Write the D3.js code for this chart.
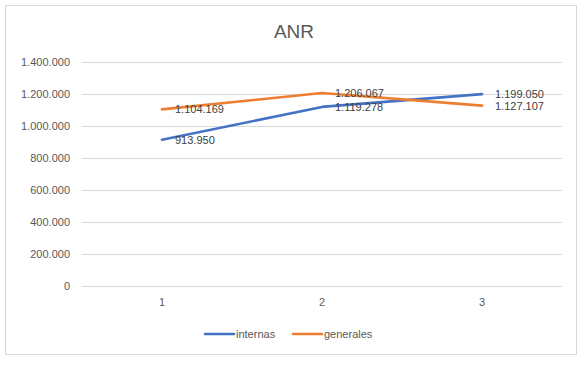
<!DOCTYPE html>
<html>
<head>
<meta charset="utf-8">
<script src="https://cdn.jsdelivr.net/npm/d3@7"></script>
<style>
  body { margin: 0; background: #fff; }
  text { font-family: "Liberation Sans", Arial, sans-serif; }
</style>
</head>
<body>
<svg id="chart" width="588" height="366"></svg>
<script>
// data
var categories = ["1", "2", "3"];
var internas = [913950, 1119278, 1199050];
var generales = [1104169, 1206067, 1127107];
var yTicks = [0, 200000, 400000, 600000, 800000, 1000000, 1200000, 1400000];
var seriesNames = ["internas", "generales"];
var colors = ["#4472C4", "#ED7D31"];

var svg = d3.select("#chart");

// outer frame
svg.append("rect")
  .attr("x", 5.5).attr("y", 5.5)
  .attr("width", 571).attr("height", 349)
  .attr("fill", "#fff")
  .attr("stroke", "#d9d9d9");

var plotLeft = 82, plotRight = 562, plotTop = 62, plotBottom = 286;

var x = d3.scaleBand().domain(categories).range([plotLeft, plotRight]);
var y = d3.scaleLinear().domain([0, 1400000]).range([plotBottom, plotTop]);

var fmt = d3.formatLocale({decimal: ",", thousands: ".", grouping: [3], currency: ["", ""]}).format(",d");

// title
svg.append("text")
  .attr("x", 294).attr("y", 38)
  .attr("text-anchor", "middle")
  .style("font-size", "19px")
  .style("fill", "#595959")
  .text("ANR");

// gridlines + y labels
var yAxis = d3.axisLeft(y).tickValues(yTicks).tickFormat(fmt).tickSize(-(plotRight - plotLeft)).tickPadding(12);
var gy = svg.append("g").attr("transform", "translate(" + plotLeft + ",0)").call(yAxis);
gy.select(".domain").remove();
gy.selectAll("line").attr("stroke", "#d9d9d9");
gy.selectAll("text").style("font-size", "11px").style("fill", "#595959")
  .style("font-family", "Liberation Sans, Arial, sans-serif");

// x labels
var xAxis = d3.axisBottom(x).tickSize(0).tickPadding(12);
var gx = svg.append("g").attr("transform", "translate(0," + plotBottom + ")").call(xAxis);
gx.select(".domain").remove();
gx.selectAll("text").style("font-size", "11px").style("fill", "#595959")
  .style("font-family", "Liberation Sans, Arial, sans-serif");

var cx = function(i) { return x(categories[i]) + x.bandwidth() / 2; };

var line = d3.line()
  .x(function(d, i) { return cx(i); })
  .y(function(d) { return y(d); });

[internas, generales].forEach(function(s, k) {
  svg.append("path")
    .datum(s)
    .attr("d", line)
    .attr("fill", "none")
    .attr("stroke", colors[k])
    .attr("stroke-width", 2.6)
    .attr("stroke-linecap", "round")
    .attr("stroke-linejoin", "round");
});

// data labels, to the right of each point
[internas, generales].forEach(function(s, k) {
  svg.append("g").selectAll("text")
    .data(s)
    .enter()
    .append("text")
    .attr("x", function(d, i) { return cx(i) + 13; })
    .attr("y", function(d) { return y(d); })
    .attr("dy", "0.35em")
    .style("font-size", "11px")
    .style("fill", "#404040")
    .text(function(d) { return fmt(d); });
});

// legend
var legend = svg.append("g").attr("transform", "translate(205,334)");
var lx = [0, 88];
seriesNames.forEach(function(n, k) {
  legend.append("line")
    .attr("x1", lx[k]).attr("x2", lx[k] + 29)
    .attr("y1", 0).attr("y2", 0)
    .attr("stroke", colors[k])
    .attr("stroke-width", 2.6)
    .attr("stroke-linecap", "round");
  legend.append("text")
    .attr("x", lx[k] + 31).attr("y", 0)
    .attr("dy", "0.35em")
    .style("font-size", "11px")
    .style("fill", "#595959")
    .text(n);
});
</script>
</body>
</html>
